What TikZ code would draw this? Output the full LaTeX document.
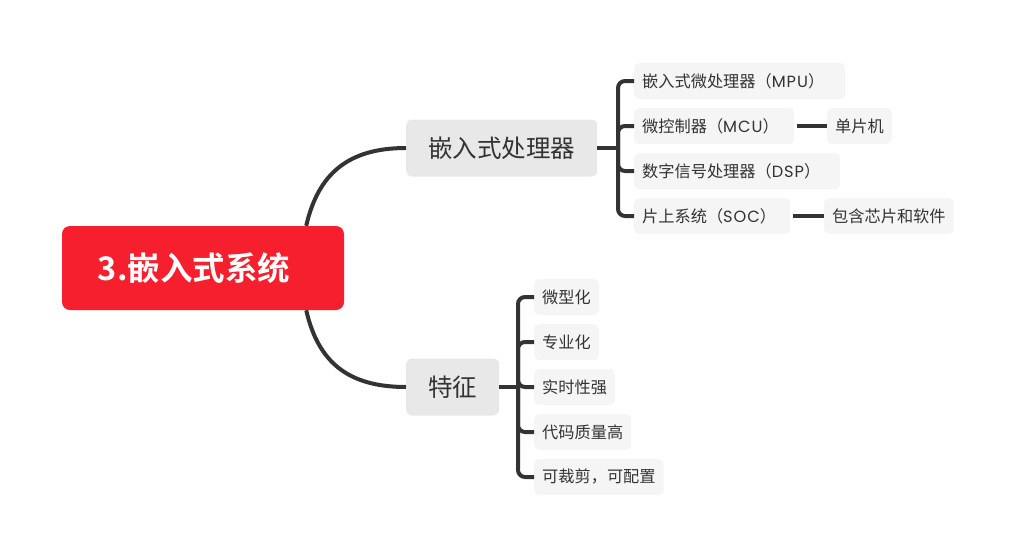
\documentclass[tikz,border=0pt]{standalone}
\usepackage{fontspec}
\setmainfont{Noto Sans CJK SC}[BoldFont={Noto Sans CJK SC Bold}]
\newfontfamily\latinfont{Poppins}
\usepackage{xcolor}
\usetikzlibrary{positioning}
\definecolor{rootred}{HTML}{F61F2E}
\definecolor{topicgray}{HTML}{E8E8E8}
\definecolor{subgray}{HTML}{F5F5F5}
\definecolor{inkdark}{HTML}{333333}
\newcommand{\lat}[1]{{\latinfont\addfontfeature{LetterSpace=6}#1}}

\begin{document}
\begin{tikzpicture}[x=1pt,y=-1pt,
  root/.style={fill=rootred,rounded corners=8pt,text=white,font=\fontsize{32.5}{36}\selectfont\bfseries,
     minimum width=282pt,minimum height=84pt,inner sep=0pt},
  topic/.style={fill=topicgray,rounded corners=6pt,text=inkdark,font=\fontsize{24.5}{28}\selectfont,
     minimum height=57pt,inner xsep=22pt,inner ysep=0pt,anchor=west},
  sub/.style={fill=subgray,rounded corners=5pt,text=inkdark,font=\fontsize{16.2}{19}\selectfont,
     minimum height=36pt,inner xsep=8pt,inner ysep=0pt,anchor=west},
  wide/.style={sub,text width=#1,align=left},
  conn/.style={draw=inkdark,line width=4pt},
  brace/.style={conn,rounded corners=7pt}]
\useasboundingbox (0,0) rectangle (1023,558);
\node[root] (sys) at (203,268) {\hspace*{-18pt}3.嵌入式系统};
\node[topic] (proc) at (406,148) {嵌入式处理器};
\node[topic] (feat) at (406,387) {特征};
\node[wide=195pt] (mpu) at (634,81) {嵌入式微处理器（\lat{MPU}）};
\node[wide=144pt] (mcu) at (634,126) {微控制器（\lat{MCU}）};
\node[sub] (scm) at (827,126) {单片机};
\node[wide=190pt] (dsp) at (634,171) {数字信号处理器（\lat{DSP}）};
\node[wide=140pt] (soc) at (634,216) {片上系统（\lat{SOC}）};
\node[sub] (chip) at (824,216) {包含芯片和软件};
\node[sub] (mini) at (534,297) {微型化};
\node[sub] (spec) at (534,342) {专业化};
\node[sub] (rt) at (534,387) {实时性强};
\node[sub] (code) at (534,432) {代码质量高};
\node[sub] (cfg) at (534,477) {可裁剪，可配置};
\draw[conn] ([xshift=-38pt]sys.north east) .. controls +(12,-52) and +(-58,0) .. (proc.west);
\draw[conn] ([xshift=-38pt]sys.south east) .. controls +(12,52) and +(-58,0) .. (feat.west);
\coordinate (procj) at (618,148);
\coordinate (featj) at (518,387);
\draw[conn] (proc.east) -- (procj);
\draw[conn] (feat.east) -- (featj);
\foreach \c in {mpu,mcu,dsp,soc}
  \draw[brace] (procj) |- (\c.west);
\foreach \c in {mini,spec,rt,code,cfg}
  \draw[brace] (featj) |- (\c.west);
\draw[conn] ([xshift=3pt]mcu.east) -- (scm);
\draw[conn] ([xshift=3pt]soc.east) -- (chip);
\end{tikzpicture}
\end{document}
